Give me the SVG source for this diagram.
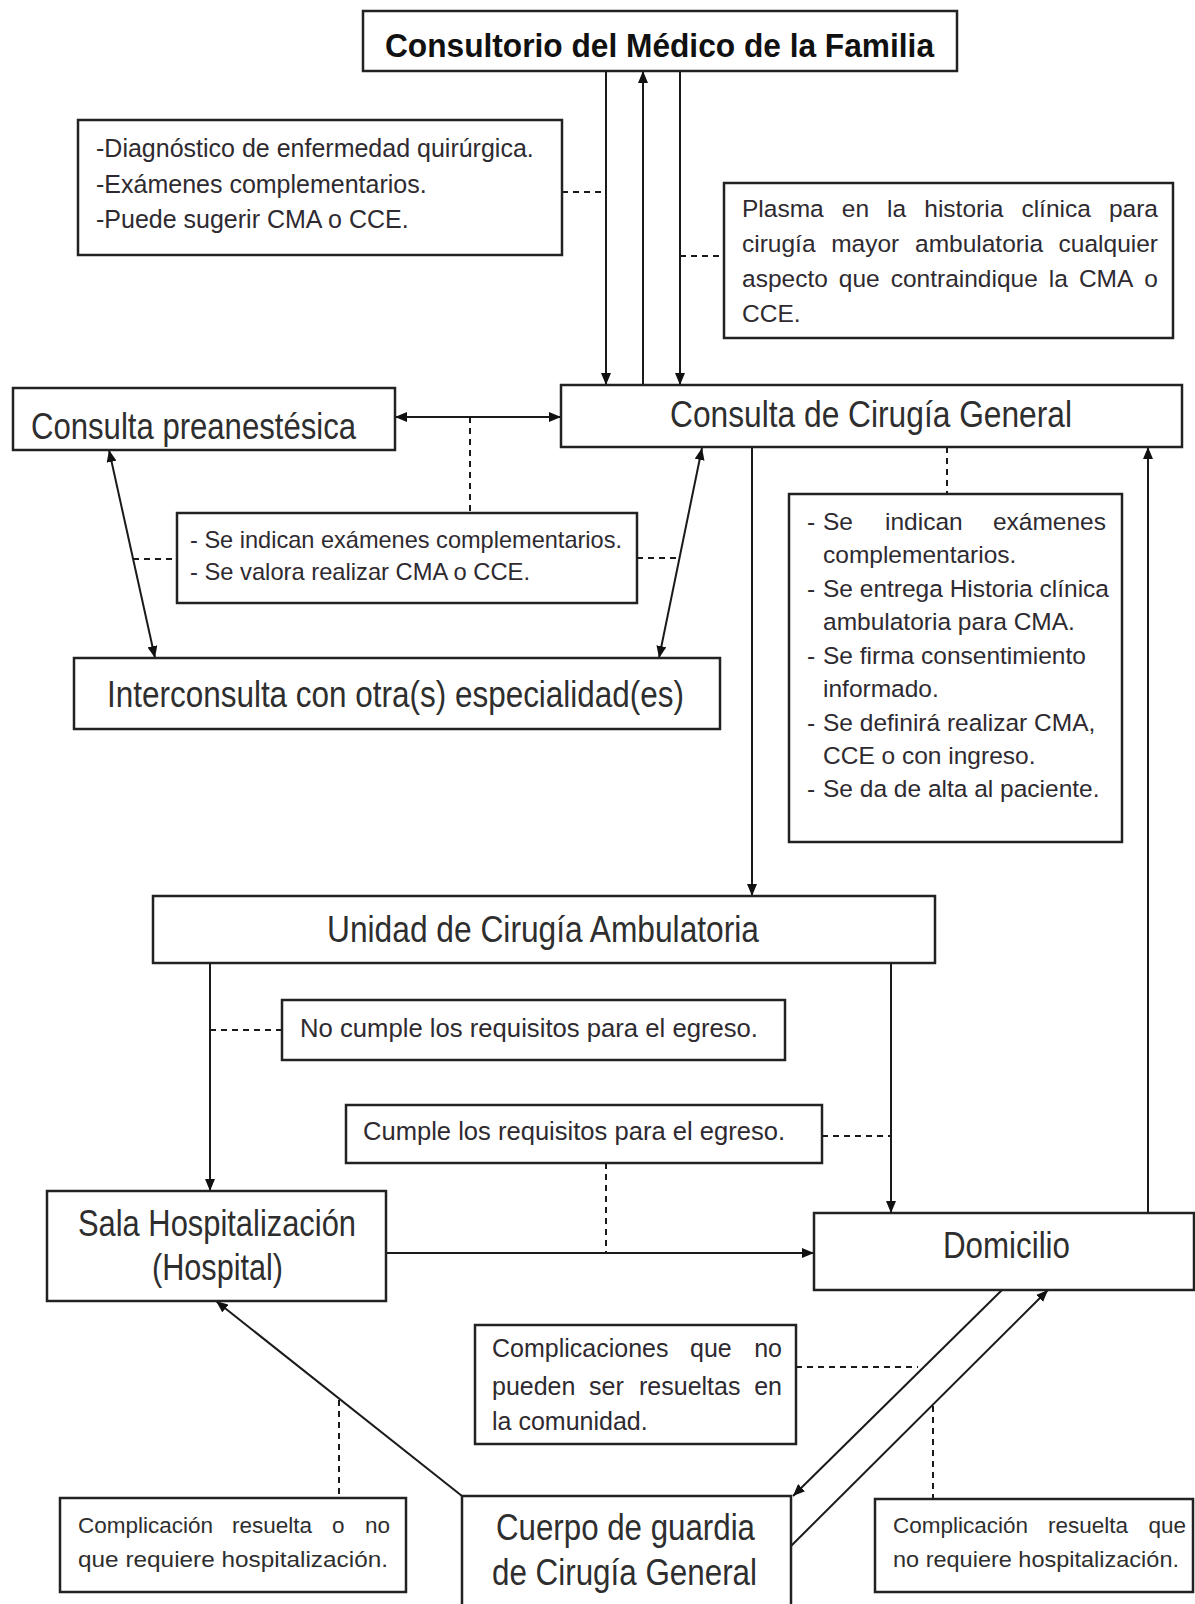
<svg xmlns="http://www.w3.org/2000/svg" width="1195" height="1604" viewBox="0 0 1195 1604">
<defs>
<marker id="ah" viewBox="0 0 12 10" refX="12" refY="5" markerWidth="12" markerHeight="10" markerUnits="userSpaceOnUse" orient="auto-start-reverse"><path d="M0,0 L12,5 L0,10 z" fill="#111"/></marker>
<style>
.box{fill:#fff;stroke:#222;stroke-width:2.5}
.ln{fill:none;stroke:#1a1a1a;stroke-width:2}
.ar{fill:none;stroke:#1a1a1a;stroke-width:2;marker-end:url(#ah)}
.da{fill:none;stroke:#1a1a1a;stroke-width:2;marker-start:url(#ah);marker-end:url(#ah)}
.dash{fill:none;stroke:#1a1a1a;stroke-width:2;stroke-dasharray:6 5}
.main{font-family:"Liberation Sans Narrow","Liberation Sans",Arial,sans-serif;font-size:36px;fill:#2e2e2e}
.note{font-family:"Liberation Sans",Arial,sans-serif;font-size:25px;fill:#2e2a30}
.small{font-family:"Liberation Sans",Arial,sans-serif;font-size:22.5px;fill:#2e2e2e}
.bold{font-family:"Liberation Sans",Arial,sans-serif;font-size:33px;font-weight:bold;fill:#111}
</style>
</defs>
<rect width="1195" height="1604" fill="#fff"/>

<g id="connectors">
<line class="ar" x1="606" y1="71" x2="606" y2="385"/>
<line class="ar" x1="643" y1="385" x2="643" y2="71"/>
<line class="ar" x1="680" y1="71" x2="680" y2="385"/>
<line class="dash" x1="562" y1="192" x2="606" y2="192"/>
<line class="dash" x1="680" y1="256" x2="724" y2="256"/>
<line class="da" x1="395" y1="417" x2="561" y2="417"/>
<line class="dash" x1="470" y1="417" x2="470" y2="513"/>
<line class="da" x1="109" y1="450" x2="155" y2="658"/>
<line class="da" x1="702" y1="448" x2="659" y2="658"/>
<line class="dash" x1="133" y1="559" x2="177" y2="559"/>
<line class="dash" x1="637" y1="558" x2="680" y2="558"/>
<line class="ar" x1="752" y1="447" x2="752" y2="896"/>
<line class="dash" x1="947" y1="447" x2="947" y2="494"/>
<line class="ar" x1="1148" y1="1213" x2="1148" y2="447"/>
<line class="ar" x1="210" y1="963" x2="210" y2="1191"/>
<line class="dash" x1="210" y1="1030" x2="282" y2="1030"/>
<line class="ar" x1="891" y1="963" x2="891" y2="1213"/>
<line class="dash" x1="822" y1="1136" x2="891" y2="1136"/>
<line class="ar" x1="386" y1="1253" x2="814" y2="1253"/>
<line class="dash" x1="606" y1="1163" x2="606" y2="1253"/>
<line class="ar" x1="1002" y1="1290" x2="793" y2="1496"/>
<line class="ar" x1="790" y1="1547" x2="1048" y2="1290"/>
<line class="dash" x1="796" y1="1367" x2="918" y2="1367"/>
<line class="dash" x1="933" y1="1406" x2="933" y2="1499"/>
<line class="ar" x1="462" y1="1496" x2="216" y2="1301"/>
<line class="dash" x1="339" y1="1400" x2="339" y2="1498"/>
</g>

<g id="consultorio">
<rect class="box" x="363" y="11" width="594" height="60"/>
<text class="bold" x="385" y="57" textLength="549" lengthAdjust="spacingAndGlyphs">Consultorio del Médico de la Familia</text>
</g>

<g id="nota-diagnostico">
<rect class="box" x="78" y="120" width="484" height="135"/>
<text class="note" x="96" y="157">-Diagnóstico de enfermedad quirúrgica.</text>
<text class="note" x="96" y="193">-Exámenes complementarios.</text>
<text class="note" x="96" y="228">-Puede sugerir CMA o CCE.</text>
</g>

<g id="nota-plasma">
<rect class="box" x="724" y="183" width="449" height="155"/>
<g class="note" style="font-size:24.5px">
<text y="217"><tspan x="742">Plasma</tspan><tspan x="841.8">en</tspan><tspan x="887.1">la</tspan><tspan x="924.3">historia</tspan><tspan x="1021.4">clínica</tspan><tspan x="1108.9">para</tspan></text>
<text y="252"><tspan x="742">cirugía</tspan><tspan x="831.2">mayor</tspan><tspan x="915">ambulatoria</tspan></text>
<text y="252" x="1158" text-anchor="end">cualquier</text>
<text y="287"><tspan x="742">aspecto</tspan><tspan x="838.8">que</tspan><tspan x="890.7">contraindique</tspan><tspan x="1048.8">la</tspan><tspan x="1078.9">CMA</tspan></text>
<text y="287" x="1158" text-anchor="end">o</text>
<text y="322" x="742">CCE.</text>
</g>
</g>

<g id="consulta-cirugia">
<rect class="box" x="561" y="385" width="621" height="62"/>
<text class="main" x="670" y="427" textLength="402" lengthAdjust="spacingAndGlyphs">Consulta de Cirugía  General</text>
</g>

<g id="consulta-preanestesica">
<rect class="box" x="13" y="388" width="382" height="62"/>
<text class="main" x="31" y="439" textLength="325" lengthAdjust="spacingAndGlyphs">Consulta preanestésica</text>
</g>

<g id="nota-preanestesica">
<rect class="box" x="177" y="513" width="460" height="90"/>
<text class="note" style="font-size:24px" x="190" y="548" textLength="432" lengthAdjust="spacingAndGlyphs">- Se indican exámenes complementarios.</text>
<text class="note" style="font-size:24px" x="190" y="580" textLength="340" lengthAdjust="spacingAndGlyphs">- Se valora realizar CMA o CCE.</text>
</g>

<g id="interconsulta">
<rect class="box" x="74" y="658" width="646" height="71"/>
<text class="main" x="107" y="707" textLength="577" lengthAdjust="spacingAndGlyphs">Interconsulta  con otra(s) especialidad(es)</text>
</g>

<g id="nota-consulta">
<rect class="box" x="789" y="494" width="333" height="348"/>
<g class="note" style="font-size:24.5px">
<text x="807" y="530">-</text><text x="823" y="530">Se</text><text x="885" y="530">indican</text><text x="1106" y="530" text-anchor="end">exámenes</text>
<text x="823" y="563">complementarios.</text>
<text x="807" y="597">-</text><text x="823" y="597">Se entrega Historia clínica</text>
<text x="823" y="630">ambulatoria para CMA.</text>
<text x="807" y="664">-</text><text x="823" y="664">Se firma consentimiento</text>
<text x="823" y="697">informado.</text>
<text x="807" y="731">-</text><text x="823" y="731">Se definirá realizar CMA,</text>
<text x="823" y="764">CCE o con ingreso.</text>
<text x="807" y="797">-</text><text x="823" y="797">Se da de alta al paciente.</text>
</g>
</g>

<g id="unidad-cirugia-ambulatoria">
<rect class="box" x="153" y="896" width="782" height="67"/>
<text class="main" x="327" y="942" textLength="432" lengthAdjust="spacingAndGlyphs">Unidad de Cirugía  Ambulatoria</text>
</g>

<g id="nota-no-cumple">
<rect class="box" x="282" y="1000" width="503" height="60"/>
<text class="note" x="300" y="1037" textLength="458" lengthAdjust="spacingAndGlyphs">No cumple los requisitos para el egreso.</text>
</g>

<g id="nota-cumple">
<rect class="box" x="346" y="1105" width="476" height="58"/>
<text class="note" x="363" y="1140" textLength="422" lengthAdjust="spacingAndGlyphs">Cumple los requisitos para el egreso.</text>
</g>

<g id="sala-hospitalizacion">
<rect class="box" x="47" y="1191" width="339" height="110"/>
<text class="main" x="78" y="1236" textLength="278" lengthAdjust="spacingAndGlyphs">Sala Hospitalización</text>
<text class="main" x="152" y="1280" textLength="131" lengthAdjust="spacingAndGlyphs">(Hospital)</text>
</g>

<g id="domicilio">
<rect class="box" x="814" y="1213" width="380" height="77"/>
<text class="main" x="943" y="1258" textLength="127" lengthAdjust="spacingAndGlyphs">Domicilio</text>
</g>

<g id="nota-complicaciones">
<rect class="box" x="475" y="1325" width="321" height="119"/>
<g class="note">
<text y="1357"><tspan x="492">Complicaciones</tspan><tspan x="690">que</tspan></text>
<text y="1357" x="782" text-anchor="end">no</text>
<text y="1395"><tspan x="492">pueden</tspan><tspan x="589">ser</tspan><tspan x="639">resueltas</tspan></text>
<text y="1395" x="782" text-anchor="end">en</text>
<text y="1430" x="492">la comunidad.</text>
</g>
</g>

<g id="cuerpo-guardia">
<rect class="box" x="462" y="1496" width="329" height="130"/>
<text class="main" x="496" y="1540" textLength="259" lengthAdjust="spacingAndGlyphs">Cuerpo de guardia</text>
<text class="main" x="492" y="1585" textLength="265" lengthAdjust="spacingAndGlyphs">de Cirugía  General</text>
</g>

<g id="nota-complicacion-hospital">
<rect class="box" x="60" y="1498" width="346" height="94"/>
<g class="small">
<text y="1533"><tspan x="78">Complicación</tspan><tspan x="232">resuelta</tspan><tspan x="332">o</tspan></text>
<text y="1533" x="390" text-anchor="end">no</text>
<text x="78" y="1567" textLength="310" lengthAdjust="spacingAndGlyphs">que requiere hospitalización.</text>
</g>
</g>

<g id="nota-complicacion-domicilio">
<rect class="box" x="875" y="1499" width="318" height="93"/>
<g class="small">
<text y="1533"><tspan x="893">Complicación</tspan><tspan x="1048">resuelta</tspan></text>
<text y="1533" x="1186" text-anchor="end">que</text>
<text x="893" y="1567" textLength="286" lengthAdjust="spacingAndGlyphs">no requiere hospitalización.</text>
</g>
</g>
</svg>
